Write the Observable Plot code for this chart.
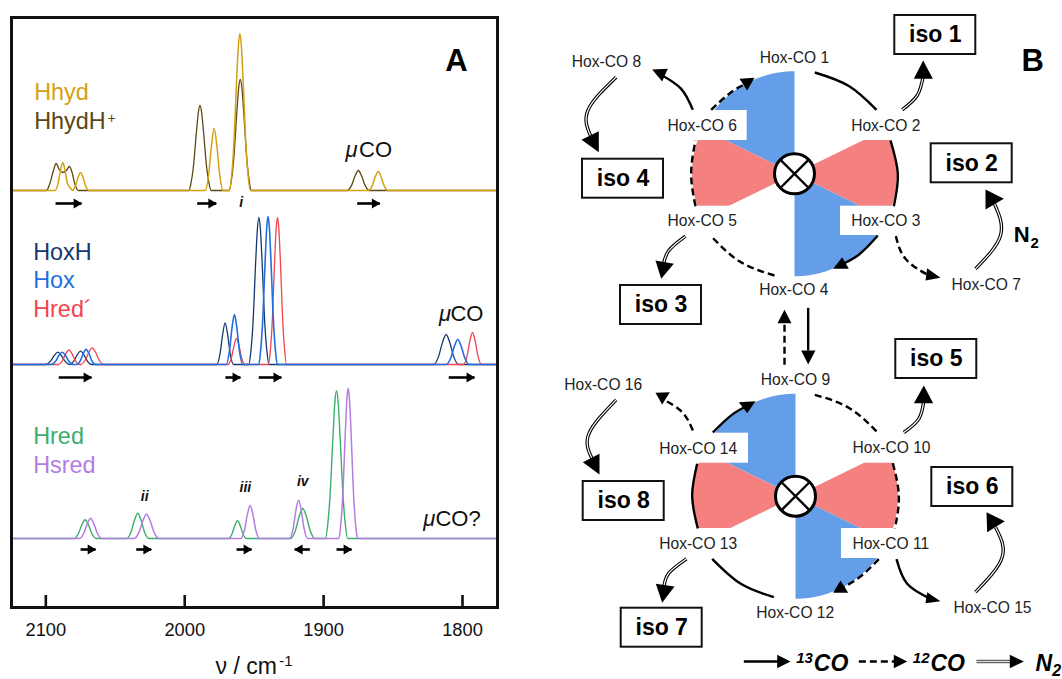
<!DOCTYPE html>
<html><head><meta charset="utf-8">
<script src="https://cdn.jsdelivr.net/npm/d3@7"></script>
<script src="https://cdn.jsdelivr.net/npm/@observablehq/plot@0.6"></script>
<style>html,body{margin:0;padding:0;background:#fff;overflow:hidden}#row{display:flex;width:1062px;height:679px}#row svg{flex:none;max-width:none}</style>
</head><body><div id="row"></div>
<script>
// ---------- Panel A: spectra (wavenumber, intensity) ----------
const hhydHNu=[2125,2099.6,2097.1,2094.6,2092.6,2090.4,2087.8,2085.2,2083,2081,2079.1,2076.5,1997,1995.4,1993.8,1991.4,1990.2,1989,1987.8,1986.6,1984.2,1982.6,1981,1968,1966.4,1964.8,1962.4,1961.2,1960,1958.8,1957.6,1955.2,1953.6,1952,1883,1879.8,1877.4,1875,1872.6,1870.2,1867,1775];
const hhydHVal=[0,0,7,19.5,27,21,18,20,24,17.5,6.5,0,0,8,23,61,78,85,78,61,23,8,0,0,10,30,80,102,111,102,80,30,10,0,0,5.4,14.4,20,14.4,5.4,0,0];
const hhydNu=[2125,2093.3,2091.1,2089.45,2087.8,2086.15,2084.5,2081.5,2081,2078.6,2076.8,2075,2073.2,2071.4,2069,1985.3,1982.7,1980.75,1978.8,1976.85,1974.9,1972.3,1967.8,1966.3,1964.8,1962.55,1961.4,1960.3,1959.2,1958.05,1955.8,1954.3,1952.8,1867.7,1864.9,1862.8,1860.7,1858.6,1856.5,1853.7,1775];
const hhydVal=[0,0,7.6,20,28,20,7.6,1,0,4.9,13,18,13,4.9,0,0,16.7,44.6,62,44.6,16.7,0,0,14,42,113,144,157,144,113,42,14,0,0,5.1,13.7,19,13.7,5.1,0,0];
const hoxHNu=[2125,2100,2096.6,2094,2091.4,2088.8,2086.2,2083,2079.8,2077.4,2075,2072.6,2070.2,2067,1976.9,1974.5,1972.7,1970.9,1969.1,1967.3,1964.9,1953.8,1952.4,1950.9,1948.8,1947.7,1946.6,1945.5,1944.4,1942.3,1940.8,1939.4,1820.8,1817.2,1814.5,1811.8,1809.1,1806.4,1802.8,1775];
const hoxHVal=[0,0,3.3,8.9,12.3,8.9,3.3,0,3.6,9.6,13.3,9.6,3.6,0,0,11.3,30,41.7,30,11.3,0,0,13,39.7,106,135,147,135,106,39.7,13,0,0,8.1,21.6,30,21.6,8.1,0,0];
const hoxNu=[2125,2096.2,2093,2090.6,2088.2,2085.8,2083.4,2080.2,2077.7,2075,2073,2071,2069,2067,2064.3,1970.2,1967.8,1966,1964.2,1962.4,1960.6,1958.2,1946.7,1945.4,1944,1942,1941,1940,1939,1938,1936,1934.6,1933.3,1811.8,1808.4,1805.9,1803.4,1800.9,1798.4,1795,1775];
const hoxVal=[0,0,3.3,8.9,12.3,8.9,3.3,0,0,4.1,11,15.3,11,4.1,0,0,13.5,36,50,36,13.5,0,0,13,40,106.6,136,148,136,106.6,40,13,0,0,6.8,18,25,18,6.8,0,0];
const hredPNu=[2125,2091.1,2088,2085.7,2083.4,2081.1,2078.8,2075.7,2075,2071.6,2069.1,2066.6,2064.1,2061.6,2058.2,1968.7,1966.3,1964.5,1962.7,1960.9,1959.1,1956.7,1939.7,1938.4,1937.1,1935.2,1934.2,1933.2,1932.2,1931.2,1929.3,1928,1926.7,1799.3,1796.7,1794.8,1792.8,1790.8,1788.9,1786.3,1775];
const hredPVal=[0,0,4,10.6,14.7,10.6,4,0,0,4.5,12,16.7,12,4.5,0,0,7,18.7,26,18.7,7,0,0,13,39.7,106,135,147,135,106,39.7,13,0,0,8.6,23,32,23,8.6,0,0];
const hredNu=[2125,2079.7,2076.5,2074.1,2071.7,2069.3,2066.9,2063.7,2041.8,2038.6,2036.2,2033.8,2031.4,2029,2025.8,1968.5,1965.9,1964,1962,1960,1958.1,1955.5,1923.9,1920.3,1917.7,1915,1912.3,1909.7,1906.1,1898.7,1897.1,1895.5,1893.1,1891.9,1890.7,1889.5,1888.3,1885.9,1884.3,1882.7,1775];
const hredVal=[0,0,5,13.5,18.7,13.5,5,0,0,6.8,18.2,25.3,18.2,6.8,0,0,4.8,12.7,17.7,12.7,4.8,0,0,8.1,21.6,30,21.6,8.1,0,0,13,39.9,106,136,147.7,136,106,39.9,13,0,0];
const hsredNu=[2125,2075.8,2072.6,2070.2,2067.8,2065.4,2063,2059.8,2036.4,2032.8,2030.2,2027.5,2024.8,2022.2,2018.6,1959.6,1956.9,1954.9,1952.9,1950.9,1948.9,1946.2,1924.5,1921.9,1920,1918,1916,1914.1,1911.5,1889,1887.7,1886.3,1884.3,1883.3,1882.3,1881.3,1880.3,1878.3,1876.9,1875.6,1775];
const hsredVal=[0,0,5.5,14.6,20.3,14.6,5.5,0,0,6.6,17.5,24.3,17.5,6.6,0,0,8.9,23.8,33,23.8,8.9,0,0,10.3,27.6,38.3,27.6,10.3,0,0,13,40.6,108,138,150.3,138,108,40.6,13,0,0];

const spectra=[
 ["HhydH",hhydHNu,hhydHVal,489,"#5c4712",1.3],
 ["Hhyd",hhydNu,hhydVal,489,"#d6a10f",1.5],
 ["HoxH",hoxHNu,hoxHVal,315,"#17386e",1.3],
 ["Hred´",hredPNu,hredPVal,315,"#f2434f",1.3],
 ["Hox",hoxNu,hoxVal,315,"#1f6fe0",1.6],
 ["Hred",hredNu,hredVal,141,"#3bae6e",1.4],
 ["Hsred",hsredNu,hsredVal,141,"#b47be2",1.5]
];
const xTicks=[2100,2000,1900,1800];
// shift arrows: from, to, level
const shiftFrom=[2093,1991,1875.8,2090.7,1970.7,1946.7,1809.9,2075,2034.9,1962.7,1909.9,1890.7];
const shiftTo=[2074.3,1977.3,1859.6,2067.1,1959.9,1930.4,1791.4,2064.2,2024.1,1951.9,1920.8,1879.9];
const shiftLevel=[476,476,476,302,302,302,302,130,130,130,130,130];
const shifts=shiftFrom.map((f,i)=>({f,t:shiftTo[i],y:shiftLevel[i],dir:shiftTo[i]<f?1:-1}));
// text labels of panel A: text, nu, level, size, colour
const labelsA=[
 ["Hhyd",2108.4,580,23.4,"#d6a10f"],["HhydH",2108.4,551,23.4,"#5c4712"],["+",2055.6,557,14,"#5c4712"],
 ["HoxH",2109.1,420,23.4,"#17386e"],["Hox",2109.1,391.7,23.4,"#1f6fe0"],["Hred´",2109.1,363,23.4,"#f2434f"],
 ["Hred",2109.1,235.7,23.4,"#3bae6e"],["Hsred",2109.1,206.7,23.4,"#b47be2"],
 ["CO",1874.5,522.3,22,"#111"],["CO",1808.7,359,22,"#111"],["CO?",1819.5,154,22,"#111"],
 ["ν / cm",1977.8,6,23,"#111"],["-1",1932,14,15,"#111"]
];
const muLabels=[[1884.2,522.3],[1817,359],[1828.3,154]];
const romanLabels=[["i",1959.4,472.3],["ii",2028.8,178.3],["iii",1956.3,188],["iv",1915,193.3]];

const font="'Liberation Sans',Arial,sans-serif";
const panelA=Plot.plot({
 width:510,height:679,marginLeft:11,marginRight:13,marginTop:17,marginBottom:72,
 style:{fontFamily:font,background:"#fff",color:"#111"},
 x:{domain:[2100,1800],range:[45.33,462]},
 y:{domain:[0,679],range:[679,0],axis:null},
 marks:[
  ...spectra.map(([name,nu,val,base,color,sw])=>Plot.line(nu.map((n,i)=>({n,v:val[i]+base})),{x:"n",y:"v",stroke:color,strokeWidth:sw,curve:"monotone-x"})),
  Plot.link(shifts,{x1:"f",x2:"t",y1:"y",y2:"y",stroke:"#000",strokeWidth:2.6,strokeLinecap:"butt"}),
  Plot.dot(shifts.filter(d=>d.dir>0),{x:"t",y:"y",symbol:"triangle",r:3.7,rotate:90,fill:"#000",stroke:null,dx:-5}),
  Plot.dot(shifts.filter(d=>d.dir<0),{x:"t",y:"y",symbol:"triangle",r:3.7,rotate:-90,fill:"#000",stroke:null,dx:5}),
  Plot.frame({stroke:"#111",strokeWidth:3}),
  Plot.axisX(xTicks,{anchor:"bottom",tickSize:-12,tickPadding:27,strokeWidth:2.6,stroke:"#111",fontSize:18.3,tickFormat:d=>String(d),fill:"#111",label:null}),
  Plot.text(labelsA,{x:d=>d[1],y:d=>d[2],text:d=>d[0],fontSize:d=>d[3],fill:d=>d[4],textAnchor:"start",lineAnchor:"bottom"}),
  Plot.text(muLabels,{x:d=>d[0],y:d=>d[1],text:()=>"μ",fontSize:22,fontStyle:"italic",fill:"#111",textAnchor:"start",lineAnchor:"bottom"}),
  Plot.text(romanLabels,{x:d=>d[1],y:d=>d[2],text:d=>d[0],fontSize:14,fontStyle:"italic",fontWeight:"bold",fill:"#111",textAnchor:"middle",lineAnchor:"bottom"}),
  Plot.text(["A"],{x:[1804.4],y:[609],text:d=>d,fontSize:31,fontWeight:"bold",fill:"#000",textAnchor:"middle",lineAnchor:"bottom"})
 ]
});

// ---------- Panel B: scheme ----------
const wheelCentres=[[794,173.3],[795,495.7]];
const wheelRadius=102.5;
const blueSpans=[[-64,0],[116,180]];
const redSpans=[[64,116],[244,296]];
// names and label centres
const stateNames=["Hox-CO 1","Hox-CO 2","Hox-CO 3","Hox-CO 4","Hox-CO 5","Hox-CO 6","Hox-CO 7","Hox-CO 8","Hox-CO 9","Hox-CO 10","Hox-CO 11","Hox-CO 12","Hox-CO 13","Hox-CO 14","Hox-CO 15","Hox-CO 16"];
const stateX=[794,885.3,885.3,793.3,701.7,701.7,985.7,606,795,891,890.3,794.7,697.7,697.7,992,602.7];
const stateY=[57.5,125.3,220.3,289.3,220.3,125.3,284.3,61,379.3,447.3,543.3,612.7,543.3,448.3,607.3,384.3];
const isoNames=["iso 1","iso 2","iso 3","iso 4","iso 5","iso 6","iso 7","iso 8"];
const isoLeft=[894.3,930.7,620,582,895.3,931.3,620.7,582.7];
const isoTop=[15,143.3,285,158.7,339,467,607.7,481];
const isoW=81,isoH=39;
// masks behind the labels inside wheels: x1,y1,x2,y2
const masks=[[663,110,746.7,140],[663,205.7,746.7,235],[840,110,923,140],[840,205.7,923,235],
             [655,432.7,748,462.7],[655,528,748,558],[842,432.7,933,462.7],[841,528,933,558]];
// curves (three points each, in scheme units: wheel index + picture position)
const solidArcs=[[0,793,216,894,256,978,328],[0,1020,420,1042,520,1030,617],[0,982,705,923,764,855,800],[0,427,328,392,265,330,222],
 [1,670,800,571,760,485,685],[1,442,594,425,497,440,400],[1,487,306,544,253,598,222],[1,1038,686,1070,760,1140,805]];
const dashArcs=[[0,672,825,568,783,482,707],[0,435,617,422,520,435,420],[0,482,328,541,276,595,245],[0,1036,707,1065,775,1135,825],
 [1,793,193,897,233,982,307],[1,1027,398,1045,497,1033,594],[1,985,686,926,741,860,780],[1,427,300,395,245,335,205]];
const doubleArcs=[[0,1055,328,1100,285,1118,228],[0,197,230,112,330,122,410],[0,405,707,355,750,338,795],[0,1275,805,1350,705,1332,610],
 [1,1060,306,1105,265,1120,210],[1,197,208,115,310,125,385],[1,408,685,355,728,340,770],[1,1275,785,1355,680,1335,590]];
const heads=[[0,1118,180,1090,235,1147,235],[0,305,207,352,205,335,243],[0,145,455,93,418,145,392],[0,332,835,315,780,370,790],
 [0,848,805,875,770,895,805],[0,612,232,567,235,590,270],[0,1170,832,1130,803,1125,840],[0,1305,567,1305,627,1360,595],
 [1,1120,165,1090,218,1148,218],[1,315,187,358,185,335,222],[1,147,432,97,395,147,370],[1,335,817,316,760,372,768],
 [1,848,787,870,750,893,787],[1,615,212,565,215,590,248],[1,1170,812,1130,785,1125,818],[1,1308,545,1310,605,1363,572],
 [1,773,102,752,60,795,60],[0,702,928,681,968,723,968],
 [1,720,993,680,973,680,1013],[1,1070,993,1030,973,1030,1013],[1,1420,993,1378,973,1378,1013]];
const straightSolid=[[1,773,-68,773,60],[1,580,993,690,993]];
const straightDash=[[1,702,103,702,-30],[1,925,993,1035,993]];
const straightDouble=[[1,1278,993,1385,993]];

const px=(w,x)=>550+x/3, py=(w,y)=>(w?330:0)+y/3;
const toPts=(list)=>list.flatMap((a,id)=>{const w=a[0],out=[];for(let i=1;i<a.length;i+=2)out.push({id,x:px(w,a[i]),y:py(w,a[i+1])});return out;});
const sector=([cx,cy],[a0,a1],id)=>{const pts=[{id,x:cx,y:cy}];for(let a=a0;a<=a1;a+=2){const t=a*Math.PI/180;pts.push({id,x:cx+wheelRadius*Math.sin(t),y:cy-wheelRadius*Math.cos(t)});}return pts;};
const blue=wheelCentres.flatMap((c,i)=>blueSpans.flatMap((s,j)=>sector(c,s,i*2+j)));
const red=wheelCentres.flatMap((c,i)=>redSpans.flatMap((s,j)=>sector(c,s,i*2+j)));
const crossArm=14.2;
const cross=wheelCentres.flatMap(([x,y])=>[{x1:x-crossArm,y1:y-crossArm,x2:x+crossArm,y2:y+crossArm},{x1:x-crossArm,y1:y+crossArm,x2:x+crossArm,y2:y-crossArm}]);
const states=stateNames.map((t,i)=>({t,x:stateX[i],y:stateY[i]}));
const isos=isoNames.map((t,i)=>({t,x1:isoLeft[i],x2:isoLeft[i]+isoW,y1:isoTop[i],y2:isoTop[i]+isoH}));
const line={x:"x",y:"y",z:"id",curve:"natural",strokeLinecap:"butt",strokeLinejoin:"round"};
const straight={x:"x",y:"y",z:"id",curve:"linear",strokeLinecap:"butt"};
const bTextUpright=[["N",1013.3,241.7,22],["2",1030,247.3,15],["B",1021,70.5,31]];
const bTextItalic=[["13",795.7,662,15],["CO",813.3,670,23],["12",912.3,662,15],["CO",930,670,23],["N",1035,670,23],["2",1051.7,675,16]];
const bTextOpts={x:d=>d[1],y:d=>d[2],text:d=>d[0],fontSize:d=>d[3],fontWeight:"bold",fill:"#000",textAnchor:"start",lineAnchor:"bottom"};

const panelB=Plot.plot({
 width:552,height:679,margin:0,
 style:{fontFamily:font,background:"#fff",color:"#111"},
 x:{domain:[510,1062],range:[0,552],axis:null},
 y:{domain:[0,679],range:[0,679],axis:null},
 marks:[
  Plot.line(blue,{x:"x",y:"y",z:"id",fill:"#659ee8",stroke:null,curve:"linear-closed"}),
  Plot.line(red,{x:"x",y:"y",z:"id",fill:"#f58080",stroke:null,curve:"linear-closed"}),
  Plot.rect(masks,{x1:d=>d[0],y1:d=>d[1],x2:d=>d[2],y2:d=>d[3],fill:"#fff"}),
  Plot.line(toPts(solidArcs),{...line,stroke:"#000",strokeWidth:2.4}),
  Plot.line(toPts(dashArcs),{...line,stroke:"#000",strokeWidth:2.4,strokeDasharray:"7 4"}),
  Plot.line(toPts(doubleArcs),{...line,stroke:"#000",strokeWidth:3.4}),
  Plot.line(toPts(doubleArcs),{...line,stroke:"#fff",strokeWidth:1.2}),
  Plot.line(toPts(straightSolid),{...straight,stroke:"#000",strokeWidth:2.4}),
  Plot.line(toPts(straightDash),{...straight,stroke:"#000",strokeWidth:2.4,strokeDasharray:"7 4"}),
  Plot.line(toPts(straightDouble),{...straight,stroke:"#666",strokeWidth:3.4}),
  Plot.line(toPts(straightDouble),{...straight,stroke:"#ddd",strokeWidth:1}),
  Plot.line(toPts(heads),{x:"x",y:"y",z:"id",fill:"#000",stroke:null,curve:"linear-closed"}),
  Plot.dot(wheelCentres,{x:d=>d[0],y:d=>d[1],r:20,fill:"#fff",stroke:"#000",strokeWidth:3}),
  Plot.link(cross,{x1:"x1",y1:"y1",x2:"x2",y2:"y2",stroke:"#000",strokeWidth:2.4}),
  Plot.text(states,{x:"x",y:"y",text:"t",fontSize:15.6,fill:"#222"}),
  Plot.rect(isos,{x1:"x1",x2:"x2",y1:"y1",y2:"y2",fill:"#fff",stroke:"#111",strokeWidth:2}),
  Plot.text(isos,{x:d=>(d.x1+d.x2)/2,y:d=>(d.y1+d.y2)/2,text:"t",fontSize:23,fontWeight:"bold",fill:"#000"}),
  Plot.text(bTextUpright,bTextOpts),
  Plot.text(bTextItalic,{...bTextOpts,fontStyle:"italic"})
 ]
});
const row=document.getElementById("row");
row.append(panelA,panelB);
</script></body></html>
